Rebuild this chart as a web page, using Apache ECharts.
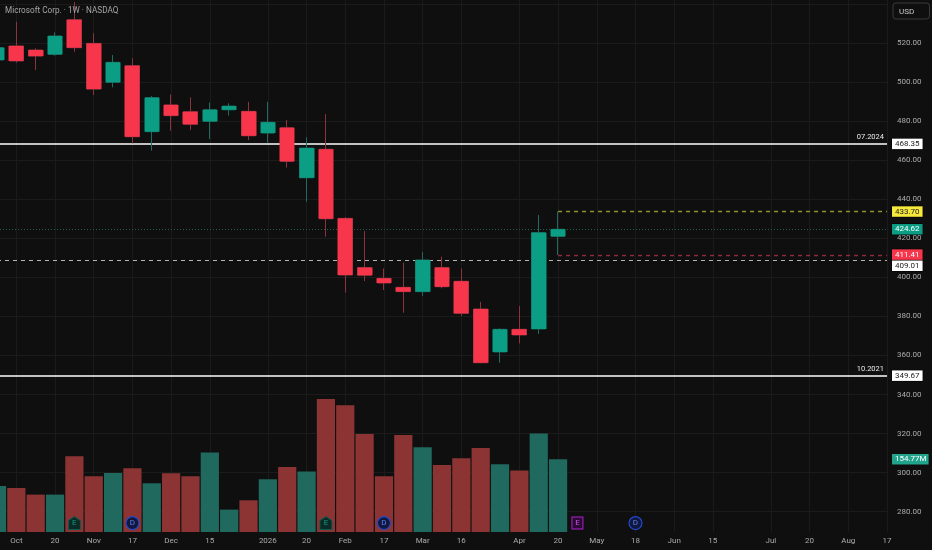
<!DOCTYPE html>
<html><head><meta charset="utf-8">
<style>html,body{margin:0;padding:0;background:#0f0f0f}#c{width:932px;height:550px}</style>
<script src="https://cdn.jsdelivr.net/npm/echarts@6/dist/echarts.min.js"></script>
</head><body><div id="c"></div>
<script>
const categories = ['2025-09-29','2025-10-06','2025-10-13','2025-10-20','2025-10-27','2025-11-03','2025-11-10','2025-11-17','2025-11-24','2025-12-01','2025-12-08','2025-12-15','2025-12-22','2025-12-29','2026-01-05','2026-01-12','2026-01-19','2026-01-26','2026-02-02','2026-02-09','2026-02-16','2026-02-23','2026-03-02','2026-03-09','2026-03-16','2026-03-23','2026-03-30','2026-04-06','2026-04-13','2026-04-20','2026-04-27','2026-05-04','2026-05-11','2026-05-18','2026-05-25','2026-06-01','2026-06-08','2026-06-15','2026-06-22','2026-06-29','2026-07-06','2026-07-13','2026-07-20','2026-07-27','2026-08-03','2026-08-10','2026-08-17'];
const tickLabels = ['','Oct','','20','','Nov','','17','','Dec','','15','','','2026','','20','','Feb','','17','','Mar','','16','','','Apr','','20','','May','','18','','Jun','','15','','','Jul','','20','','Aug','','17'];
const opens  = [511.3,518.5,516.4,514.2,531.9,519.8,499.9,508.4,474.6,488.3,484.8,479.9,485.8,485.0,473.9,476.6,451.0,465.6,430.2,405.0,399.5,394.9,392.7,405.0,398.0,383.8,361.8,373.4,373.6,421.0];
const closes = [517.6,510.8,513.3,523.6,517.6,496.4,510.1,472.0,492.0,482.8,478.4,485.8,487.7,472.5,479.4,459.4,466.2,430.0,401.2,401.1,397.1,392.7,408.9,395.2,381.6,356.3,373.4,370.5,422.9,424.62];
const lows   = [510.8,509.9,506.2,513.5,515.5,493.4,497.3,468.6,464.9,475.1,475.5,470.8,482.8,470.3,469.0,456.2,438.7,420.8,392.2,398.1,393.5,381.9,390.5,394.4,380.2,356.0,356.3,366.2,371.0,411.41];
const highs  = [518.0,530.9,517.3,525.5,541.0,525.0,513.9,512.2,492.9,493.7,492.2,489.6,489.1,489.9,489.9,480.6,471.7,483.6,430.8,423.7,404.6,407.5,413.1,410.6,404.6,387.5,373.9,385.3,431.9,433.70];
const volumes = [97.9,93.7,79.6,79.6,161.2,118.6,125.6,135.6,103.7,125.0,118.6,169.0,47.7,67.5,112.2,138.4,128.6,283.2,269.7,208.6,118.6,206.5,180.3,142.6,156.9,178.8,144.1,130.7,209.5,154.77];
const priceTicksMin = 280, priceTicksMax = 540, priceStep = 20;
const earningsPast = [4,17], dividends = [7,20,33], earningsNext = [30];
const eventLevel = 19;

const BG='#0f0f0f', UP='#0b9e84', DOWN='#f7364c', UPW='#1f6b60', DOWNW='#8a3440', UPV='#20695f', DOWNV='#8c3434', TXT='#ababab', GRID='#1b1b1b';
const FONT='Roboto';
const boxLabel=(v,bg,fg,dy)=>({show:true,position:'end',distance:5,offset:[0,dy||0],backgroundColor:bg,color:fg,fontFamily:FONT,fontSize:8,padding:[1.5,3,1,3],borderColor:'#000',borderWidth:0.5,formatter:v.toFixed(2)});
const hline=(from,v,style,label)=>[{coord:[from,v],lineStyle:style,label},{coord:[46,v]}];
const tagLabel=(txt)=>({show:true,position:'insideEndTop',distance:3,color:'#e8e8e8',fontFamily:FONT,fontSize:7.5,formatter:txt});
const WHITE={color:'#fff',width:1.6,type:'solid'};
const lines=[
 hline(0,468.35,WHITE,boxLabel(468.35,'#fff','#222')),
 hline(0,468.35,{color:'transparent',width:0},tagLabel('07.2024')),
 hline(0,349.67,WHITE,boxLabel(349.67,'#fff','#222')),
 hline(0,349.67,{color:'transparent',width:0},tagLabel('10.2021')),
 hline(29,433.70,{color:'#8f8f34',width:1.3,type:[4,4]},boxLabel(433.70,'#f7e83c','#222')),
 hline(29,411.41,{color:'#8c2a3e',width:1.3,type:[4,4]},boxLabel(411.41,DOWN,'#fff',-0.5)),
 hline(0,409.01,{color:'#b5b5b5',width:1,type:[4,4]},boxLabel(409.01,'#fff','#222',6)),
 hline(0,424.62,{color:'#24584f',width:1,type:[1,2]},boxLabel(424.62,UP,'#fff'))
];
const ohlc=opens.map((o,i)=>[o,closes[i],lows[i],highs[i]]);
const bodies=opens.map((o,i)=>[o,closes[i],Math.min(o,closes[i]),Math.max(o,closes[i])]);
const volData=volumes.map((v,i)=>({value:v,itemStyle:{color:closes[i]>=opens[i]?UPV:DOWNV}}));
const evLabel=(t,c)=>({show:true,position:'inside',formatter:t,color:c,fontFamily:FONT,fontSize:8});
const chart=echarts.init(document.getElementById('c'),null,{renderer:'canvas'});
const hasLabel=i=>tickLabels[i]!=='';
chart.setOption({
 animation:false,backgroundColor:BG,
 title:{text:'Microsoft Corp. · 1W · NASDAQ',left:5,top:7,padding:0,textStyle:{color:'#a6a6a6',fontFamily:FONT,fontSize:8.2,fontWeight:'normal'}},
 grid:[
  {left:-3,right:45,top:3.94,height:507.8,outerBoundsMode:'none'},
  {left:-3,right:45,top:0,height:532,outerBoundsMode:'none'}
 ],
 xAxis:[
  {type:'category',gridIndex:0,data:categories,boundaryGap:false,axisLine:{show:false},axisTick:{show:false},axisLabel:{show:false},splitLine:{show:false}},
  {type:'category',gridIndex:1,data:categories,boundaryGap:false,axisLine:{show:false},axisTick:{show:false},
   axisLabel:{show:true,interval:i=>hasLabel(i),formatter:(v,i)=>tickLabels[i],color:TXT,fontFamily:FONT,fontSize:8,margin:5},
   splitLine:{show:true,interval:i=>hasLabel(i),lineStyle:{color:GRID,width:1}}}
 ],
 yAxis:[
  {type:'value',gridIndex:0,position:'right',min:priceTicksMin,max:priceTicksMax,interval:priceStep,axisLine:{show:false},axisTick:{show:false},
   axisLabel:{color:TXT,fontFamily:FONT,fontSize:8,margin:10,showMaxLabel:false,formatter:v=>v.toFixed(2)},splitLine:{lineStyle:{color:GRID,width:1}}},
  {type:'value',gridIndex:1,position:'right',min:0,max:1132.6,show:false,splitLine:{show:false}}
 ],
 series:[
  {type:'bar',name:'Volume',xAxisIndex:1,yAxisIndex:1,data:volData,barWidth:18.2,z:1,
   markLine:{silent:true,symbol:'none',animation:false,data:[[{coord:[29,154.77],lineStyle:{color:'transparent',width:0},label:{show:true,position:'end',distance:5,backgroundColor:'#22a38c',color:'#fff',fontFamily:FONT,fontSize:8,padding:[1.5,2,1,3],formatter:(154.77).toFixed(2)+'M'}},{coord:[46,154.77]}]]}},
  {type:'candlestick',name:'Wicks',xAxisIndex:0,yAxisIndex:0,data:ohlc,barWidth:14,z:3,
   itemStyle:{color:UP,color0:DOWN,borderColor:UPW,borderColor0:DOWNW,borderWidth:1},
   markLine:{silent:true,symbol:'none',animation:false,z:2,data:lines}},
  {type:'candlestick',name:'MSFT',xAxisIndex:0,yAxisIndex:0,data:bodies,barWidth:15.5,z:4,
   itemStyle:{color:UP,color0:DOWN,borderColor:UP,borderColor0:DOWN,borderWidth:0}},
  {type:'scatter',name:'Earnings',xAxisIndex:1,yAxisIndex:1,z:6,symbol:'path://M6 0 L12 4 L12 13 L0 13 L0 4 Z',symbolSize:[12,13],
   data:earningsPast.map(i=>[i,eventLevel]),itemStyle:{color:'#0b2a25',borderColor:'#0e5a4d',borderWidth:1,opacity:1},label:evLabel('E','#0f9c83')},
  {type:'scatter',name:'Dividends',xAxisIndex:1,yAxisIndex:1,z:6,symbol:'circle',symbolSize:13,
   data:dividends.map(i=>[i,eventLevel]),itemStyle:{color:'#10183f',borderColor:'#2448c8',borderWidth:1.2,opacity:1},label:evLabel('D','#5f80ee')},
  {type:'scatter',name:'Next earnings',xAxisIndex:1,yAxisIndex:1,z:6,symbol:'rect',symbolSize:[11,12],
   data:earningsNext.map(i=>[i,eventLevel]),itemStyle:{color:'#2a0a33',borderColor:'#b022d4',borderWidth:1,opacity:1},label:evLabel('E','#d04cee')}
 ],
 graphic:[
  {type:'rect',shape:{x:893,y:3,width:36.5,height:16,r:3},style:{fill:'transparent',stroke:'#3a3a3a',lineWidth:1},z:10},
  {type:'text',x:899,y:7.5,style:{text:'USD',fill:'#c8c8c8',font:'8px Roboto'},z:10}
 ]
});
</script></body></html>
